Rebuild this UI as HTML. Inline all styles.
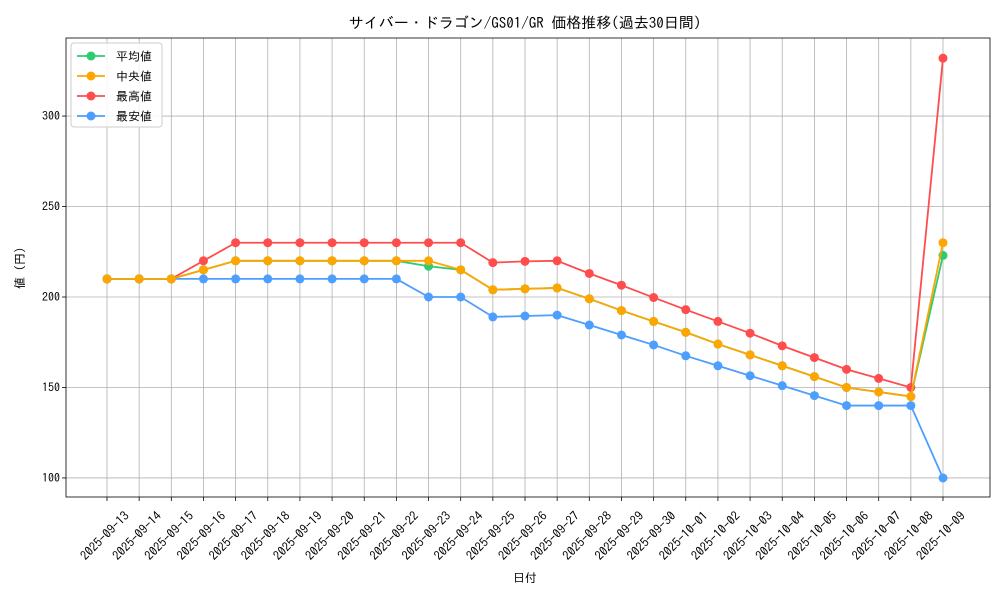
<!DOCTYPE html>
<html><head><meta charset="utf-8"><style>
html,body{margin:0;padding:0;background:#fff;}
svg text{font-family:"IPAGothic","Liberation Sans",sans-serif;fill:#000;}
</style></head><body>
<svg id="s" width="1000" height="600" xmlns="http://www.w3.org/2000/svg"></svg>
<script>
const s=document.getElementById('s');
let h='';
const X0=66,X1=990,Y0=38,Y1=497;
const xs=i=>107+i*(943-107)/26;
const ys=v=>297-(v-200)*1.8095;
const dates=[];
for(let d=13;d<=30;d++)dates.push('2025-09-'+d);
for(let d=1;d<=9;d++)dates.push('2025-10-0'+d);
for(let i=0;i<27;i++){const x=xs(i);h+=`<line x1="${x}" y1="${Y0}" x2="${x}" y2="${Y1}" stroke="#b0b0b0" stroke-width="0.8"/>`;
h+=`<line x1="${x}" y1="${Y1}" x2="${x}" y2="${Y1+4}" stroke="#000" stroke-width="0.8"/>`;
h+=`<text transform="translate(${x-2},536) rotate(-45)" text-anchor="middle" dy="4" font-size="12.5">${dates[i]}</text>`;}
for(const v of [100,150,200,250,300]){const y=ys(v);h+=`<line x1="${X0}" y1="${y}" x2="${X1}" y2="${y}" stroke="#b0b0b0" stroke-width="0.8"/>`;
h+=`<line x1="${X0-4}" y1="${y}" x2="${X0}" y2="${y}" stroke="#000" stroke-width="0.8"/>`;
h+=`<text x="${X0-6}" y="${y+4}" text-anchor="end" font-size="12">${v}</text>`;}
const series=[
['#ff4d4d',[210,210,210,220,230,230,230,230,230,230,230,230,219,219.7,220,213,206.5,199.7,193,186.5,180,173,166.5,160,155,150,332]],
['#4d9fff',[210,210,210,210,210,210,210,210,210,210,200,200,189,189.5,190,184.5,179,173.5,167.5,162,156.5,151,145.5,140,140,140,100]],
['#2ecc71',[210,210,210,215,220,220,220,220,220,220,217,215,204,204.5,205,199,192.5,186.5,180.5,174,168,162,156,150,147.5,145,223]],
['#ffa500',[210,210,210,215,220,220,220,220,220,220,220,215,204,204.5,205,199,192.5,186.5,180.5,174,168,162,156,150,147.5,145,230]]];
for(const [c,d] of series){h+=`<polyline fill="none" stroke="${c}" stroke-width="1.8" points="${d.map((v,i)=>xs(i)+','+ys(v)).join(' ')}"/>`;
d.forEach((v,i)=>h+=`<circle cx="${xs(i)}" cy="${ys(v)}" r="4.5" fill="${c}"/>`);}
h+=`<rect x="${X0}" y="${Y0}" width="${X1-X0}" height="${Y1-Y0}" fill="none" stroke="#000" stroke-width="0.8"/>`;
h+=`<rect x="71" y="43" width="91" height="84" rx="3" fill="#fff" fill-opacity="0.85" stroke="#ccc"/>`;
[['平均値','#2ecc71'],['中央値','#ffa500'],['最高値','#ff4d4d'],['最安値','#4d9fff']].forEach(([t,c],k)=>{const y=56+k*20;
h+=`<line x1="77" y1="${y}" x2="105" y2="${y}" stroke="${c}" stroke-width="1.8"/><circle cx="91" cy="${y}" r="4.5" fill="${c}"/><text x="116" y="${y+4.5}" font-size="12">${t}</text>`;});
h+=`<text x="525" y="28" text-anchor="middle" font-size="15">サイバー・ドラゴン/GS01/GR 価格推移(過去30日間)</text>`;
h+=`<text x="525" y="582" text-anchor="middle" font-size="12">日付</text>`;
h+=`<text transform="translate(24,268) rotate(-90)" text-anchor="middle" font-size="12">値 (円)</text>`;
s.innerHTML=h;
</script>
</body></html>
